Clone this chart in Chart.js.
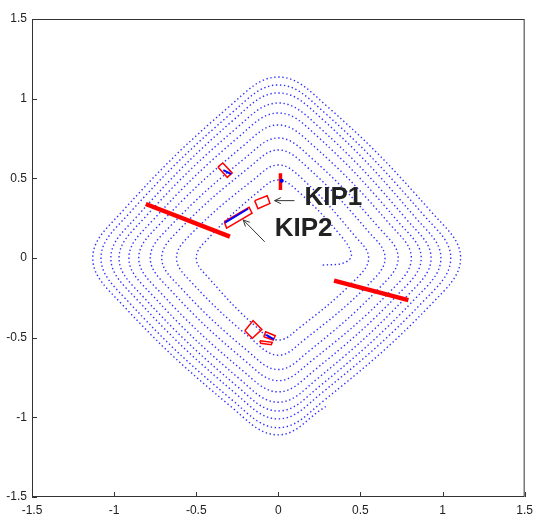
<!DOCTYPE html>
<html>
<head>
<meta charset="utf-8">
<script src="https://cdn.jsdelivr.net/npm/chart.js@4.4.1/dist/chart.umd.min.js"></script>
<style>
  html, body { margin: 0; padding: 0; background: #fff; }
  #wrap { width: 539px; height: 520px; position: relative; }
</style>
</head>
<body>
<div id="wrap"><canvas id="chart"></canvas></div>
<script>
// axis ticks
const tickValues = [-1.5, -1, -0.5, 0, 0.5, 1, 1.5];

// spiral path, inner end outward; each turn: right, top, left, bottom corner
// (shoulder, apex, shoulder)
const spiralX = [
  0.27, 0.40, 0.445, 0.38,   0.127, 0, -0.127,   -0.420, -0.50, -0.420,   -0.134, 0, 0.134,
  0.462, 0.55, 0.462,   0.152, 0, -0.152,   -0.521, -0.62, -0.521,   -0.159, 0, 0.159,
  0.546, 0.65, 0.546,   0.176, 0, -0.176,   -0.596, -0.71, -0.596,   -0.182, 0, 0.182,
  0.613, 0.73, 0.613,   0.196, 0, -0.196,   -0.655, -0.78, -0.655,   -0.200, 0, 0.200,
  0.680, 0.81, 0.680,   0.217, 0, -0.217,   -0.714, -0.85, -0.714,   -0.218, 0, 0.218,
  0.731, 0.87, 0.731,   0.237, 0, -0.237,   -0.764, -0.91, -0.764,   -0.235, 0, 0.235,
  0.781, 0.93, 0.781,   0.253, 0, -0.253,   -0.815, -0.97, -0.815,   -0.250, 0, 0.250,
  0.832, 0.99, 0.832,   0.269, 0, -0.269,   -0.857, -1.02, -0.857,   -0.263, 0, 0.263,
  0.882, 1.05, 0.882,   0.282, 0, -0.282,   -0.907, -1.08, -0.907,   -0.277, 0, 0.277,
  0.932, 1.11, 0.932,   0.295, 0, -0.295,   -0.949, -1.13, -0.949,   -0.289, 0, 0.289
];
const spiralY = [
  -0.045, -0.03, 0.02, 0.14,   0.412, 0.49, 0.412,   0.130, 0, -0.130,   -0.433, -0.515, -0.433,
  -0.143, 0, 0.143,   0.491, 0.584, 0.491,   0.161, 0, -0.161,   -0.512, -0.61, -0.512,
  -0.169, 0, 0.169,   0.570, 0.678, 0.570,   0.185, 0, -0.185,   -0.588, -0.70, -0.588,
  -0.190, 0, 0.190,   0.633, 0.753, 0.633,   0.203, 0, -0.203,   -0.647, -0.77, -0.647,
  -0.211, 0, 0.211,   0.701, 0.835, 0.701,   0.221, 0, -0.221,   -0.706, -0.84, -0.706,
  -0.226, 0, 0.226,   0.764, 0.91, 0.764,   0.237, 0, -0.237,   -0.760, -0.905, -0.760,
  -0.242, 0, 0.242,   0.817, 0.973, 0.817,   0.252, 0, -0.252,   -0.806, -0.96, -0.806,
  -0.257, 0, 0.257,   0.870, 1.036, 0.870,   0.265, 0, -0.265,   -0.848, -1.01, -0.848,
  -0.273, 0, 0.273,   0.912, 1.086, 0.912,   0.281, 0, -0.281,   -0.895, -1.065, -0.895,
  -0.289, 0, 0.289,   0.954, 1.136, 0.954,   0.294, 0, -0.294,   -0.932, -1.11, -0.932
];

// thick red walls
const wallLeftX = [-0.807, -0.295];
const wallLeftY = [0.339, 0.134];
const wallRightX = [0.339, 0.792];
const wallRightY = [-0.142, -0.264];
const wallTopX = [0.013, 0.013];
const wallTopY = [0.532, 0.427];

// red boxes (closed outlines)
const boxKip1X = [-0.144, -0.068, -0.051, -0.124, -0.144];
const boxKip1Y = [0.360, 0.391, 0.343, 0.309, 0.360];
const boxKip2X = [-0.329, -0.178, -0.160, -0.315, -0.329];
const boxKip2Y = [0.228, 0.318, 0.281, 0.188, 0.228];
const boxUpperX = [-0.368, -0.338, -0.281, -0.311, -0.368];
const boxUpperY = [0.571, 0.596, 0.534, 0.506, 0.571];
const boxLowAX = [-0.204, -0.154, -0.100, -0.158, -0.204];
const boxLowAY = [-0.456, -0.393, -0.448, -0.504, -0.456];
const boxLowBX = [-0.089, -0.077, -0.019, -0.031, -0.089];
const boxLowBY = [-0.494, -0.463, -0.488, -0.515, -0.494];
const boxLowCX = [-0.113, -0.107, -0.043, -0.037, -0.113];
const boxLowCY = [-0.519, -0.535, -0.544, -0.529, -0.519];

// blue segments inside boxes
const segKip2X = [-0.325, -0.184];
const segKip2Y = [0.222, 0.309];
const segUpperX = [-0.335, -0.287];
const segUpperY = [0.552, 0.527];
const segLowX = [-0.074, -0.027];
const segLowY = [-0.483, -0.510];
const dotTopX = [0.021];
const dotTopY = [0.485];

// annotations
const labelText = ['KIP1', 'KIP2'];
const labelX = [0.335, 0.154];
const labelY = [0.380, 0.185];
const arrowTailX = [0.098, -0.083];
const arrowTailY = [0.360, 0.102];
const arrowHeadX = [-0.023, -0.214];
const arrowHeadY = [0.360, 0.239];

function pts(xs, ys) {
  return xs.map((x, i) => ({ x: x, y: ys[i] }));
}

function lineSet(xs, ys, color, width, order) {
  return {
    data: pts(xs, ys),
    showLine: true,
    borderColor: color,
    borderWidth: width,
    pointRadius: 0,
    tension: 0,
    order: order
  };
}

const frame = {
  id: 'frame',
  afterDraw(chart) {
    const ctx = chart.ctx;
    const a = chart.chartArea;
    const xs = chart.scales.x, ys = chart.scales.y;
    ctx.save();
    ctx.strokeStyle = '#333';
    ctx.lineWidth = 1;
    ctx.strokeRect(a.left + 0.5, a.top + 0.5, a.right - a.left - 1, a.bottom - a.top - 1);
    ctx.beginPath();
    tickValues.forEach(v => {
      const px = Math.round(xs.getPixelForValue(v)) + 0.5;
      ctx.moveTo(px, a.bottom);
      ctx.lineTo(px, a.bottom - 5);
      const py = Math.round(ys.getPixelForValue(v)) + 0.5;
      ctx.moveTo(a.left, py);
      ctx.lineTo(a.left + 5, py);
    });
    ctx.stroke();
    ctx.restore();
  },
  afterDatasetsDraw(chart) {
    const ctx = chart.ctx;
    const xs = chart.scales.x, ys = chart.scales.y;
    ctx.save();
    ctx.strokeStyle = '#333';
    ctx.lineWidth = 1;
    arrowTailX.forEach((tx, i) => {
      const x0 = xs.getPixelForValue(tx), y0 = ys.getPixelForValue(arrowTailY[i]);
      const x1 = xs.getPixelForValue(arrowHeadX[i]), y1 = ys.getPixelForValue(arrowHeadY[i]);
      const ang = Math.atan2(y1 - y0, x1 - x0);
      ctx.beginPath();
      ctx.moveTo(x0, y0);
      ctx.lineTo(x1, y1);
      ctx.moveTo(x1 - 7 * Math.cos(ang - 0.45), y1 - 7 * Math.sin(ang - 0.45));
      ctx.lineTo(x1, y1);
      ctx.lineTo(x1 - 7 * Math.cos(ang + 0.45), y1 - 7 * Math.sin(ang + 0.45));
      ctx.stroke();
    });
    ctx.fillStyle = '#222';
    ctx.font = 'bold 26px "Liberation Sans", Arial, sans-serif';
    ctx.textAlign = 'center';
    ctx.textBaseline = 'middle';
    labelText.forEach((t, i) => {
      ctx.fillText(t, xs.getPixelForValue(labelX[i]), ys.getPixelForValue(labelY[i]));
    });
    ctx.restore();
  }
};

const tickFont = { family: '"Liberation Sans", Arial, sans-serif', size: 12 };

new Chart(document.getElementById('chart'), {
  type: 'scatter',
  data: {
    datasets: [
      {
        data: pts(spiralX, spiralY),
        showLine: true,
        borderColor: 'rgba(25,25,255,0.9)',
        borderWidth: 1.4,
        borderDash: [1.4, 2.6],
        pointRadius: 0,
        tension: 0.4,
        order: 5
      },
      lineSet(wallLeftX, wallLeftY, '#ff0000', 4.5, 3),
      lineSet(wallRightX, wallRightY, '#ff0000', 4.5, 3),
      lineSet(wallTopX, wallTopY, '#ff0000', 3.5, 3),
      lineSet(boxKip1X, boxKip1Y, '#ff0000', 1.5, 3),
      lineSet(boxKip2X, boxKip2Y, '#ff0000', 1.5, 3),
      lineSet(boxUpperX, boxUpperY, '#ff0000', 1.5, 3),
      lineSet(boxLowAX, boxLowAY, '#ff0000', 1.5, 3),
      lineSet(boxLowBX, boxLowBY, '#ff0000', 1.5, 3),
      lineSet(boxLowCX, boxLowCY, '#ff0000', 1.5, 3),
      lineSet(segKip2X, segKip2Y, '#0000ff', 2, 1),
      lineSet(segUpperX, segUpperY, '#0000ff', 2, 1),
      lineSet(segLowX, segLowY, '#0000ff', 2, 1),
      {
        data: pts(dotTopX, dotTopY),
        pointRadius: 2,
        pointBackgroundColor: '#0000ff',
        pointBorderWidth: 0,
        order: 0
      }
    ]
  },
  options: {
    responsive: true,
    maintainAspectRatio: false,
    animation: false,
    layout: { padding: { top: 19, right: 10, left: 0, bottom: 0 } },
    plugins: {
      legend: { display: false },
      tooltip: { enabled: false }
    },
    scales: {
      x: {
        min: -1.5, max: 1.5,
        afterBuildTicks: s => { s.ticks = tickValues.map(v => ({ value: v })); },
        afterFit: s => { s.height = 23; },
        grid: { display: false, drawTicks: false },
        border: { display: false },
        ticks: { font: tickFont, color: '#222', padding: 6, maxRotation: 0, callback: v => String(v) }
      },
      y: {
        min: -1.5, max: 1.5,
        afterBuildTicks: s => { s.ticks = tickValues.map(v => ({ value: v })); },
        afterFit: s => { s.width = 32; },
        grid: { display: false, drawTicks: false },
        border: { display: false },
        ticks: { font: tickFont, color: '#222', padding: 5, callback: v => String(v) }
      }
    }
  },
  plugins: [frame]
});
</script>
</body>
</html>
